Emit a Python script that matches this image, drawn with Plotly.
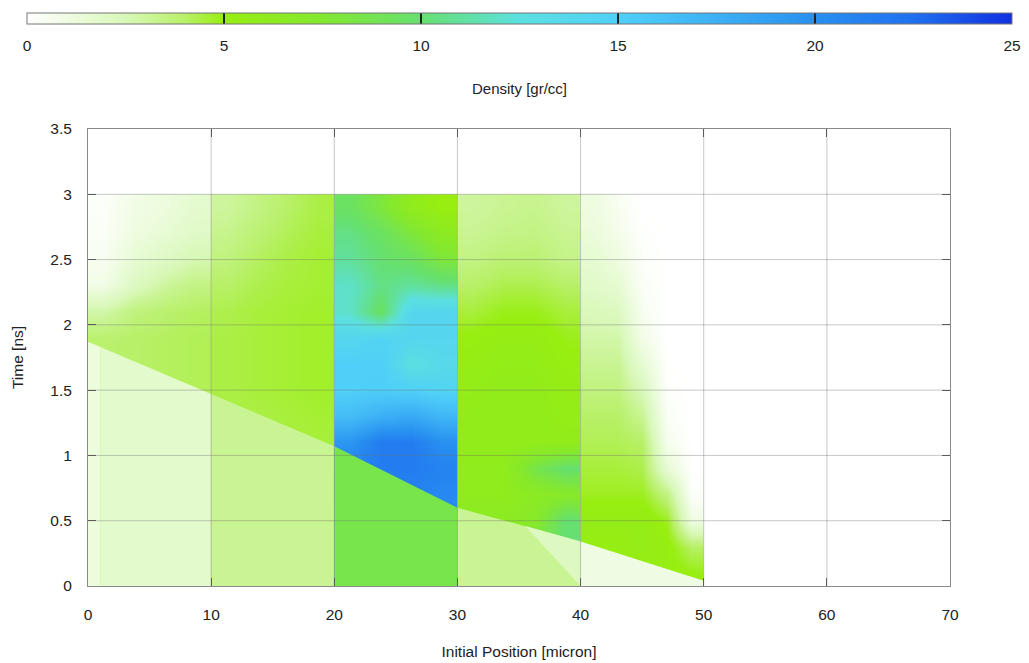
import plotly.graph_objects as go
from plotly.colors import sample_colorscale

# ---------------- data ----------------
# time grid (ns) shared by all material layers: row edges
t_edges = [0.0, 0.2, 0.4, 0.6, 0.8, 1.0, 1.2, 1.4, 1.6, 1.8, 2.0, 2.2, 2.4, 2.6, 2.8, 3.0]

# Post-shock density (gr/cc) per material layer, rows = time (0.1 .. 2.9 ns)
layer_a_x = [0.0, 2.5, 5.0, 7.5, 10.0]
layer_a_z = [
    [3.9, 4.0, 4.1, 4.2],
    [3.9, 4.0, 4.1, 4.2],
    [3.9, 4.0, 4.1, 4.2],
    [3.9, 4.0, 4.1, 4.2],
    [3.9, 4.0, 4.1, 4.2],
    [3.9, 4.0, 4.1, 4.2],
    [3.9, 4.0, 4.1, 4.2],
    [3.9, 4.0, 4.1, 4.2],
    [3.9, 4.0, 4.1, 4.2],
    [3.9, 4.0, 4.1, 4.2],
    [2.8, 3.6, 3.9, 4.1],
    [0.9, 2.2, 3.0, 3.5],
    [0.5, 1.5, 2.1, 2.6],
    [0.3, 1.1, 1.5, 2.0],
    [0.2, 0.9, 1.2, 1.7],
]

layer_b_x = [10.0, 12.5, 15.0, 17.5, 20.0]
layer_b_z = [
    [4.4, 4.4, 4.5, 4.5],
    [4.4, 4.4, 4.5, 4.5],
    [4.4, 4.4, 4.5, 4.5],
    [4.4, 4.4, 4.5, 4.5],
    [4.4, 4.4, 4.5, 4.5],
    [4.4, 4.4, 4.5, 4.5],
    [4.4, 4.4, 4.5, 4.6],
    [4.4, 4.5, 4.6, 4.7],
    [4.4, 4.5, 4.6, 4.7],
    [4.4, 4.5, 4.6, 4.7],
    [4.3, 4.5, 4.6, 4.7],
    [4.0, 4.3, 4.5, 4.6],
    [3.6, 4.1, 4.4, 4.6],
    [3.3, 3.8, 4.2, 4.5],
    [3.0, 3.5, 4.0, 4.4],
]

layer_c_x = [20.0, 22.5, 25.0, 27.5, 30.0]
layer_c_z = [
    [21.0, 21.0, 21.0, 20.5],
    [21.0, 21.0, 21.0, 20.5],
    [21.0, 21.0, 21.0, 20.5],
    [21.0, 21.0, 21.0, 20.5],
    [21.0, 21.5, 21.5, 21.0],
    [19.5, 21.5, 21.5, 20.0],
    [16.5, 17.5, 18.0, 17.0],
    [15.0, 15.2, 15.0, 14.5],
    [15.0, 15.0, 12.5, 13.5],
    [14.0, 14.5, 14.0, 14.0],
    [12.0, 9.5, 14.0, 14.0],
    [12.0, 10.5, 11.0, 10.5],
    [11.0, 10.0, 9.5, 8.0],
    [10.5, 9.5, 8.0, 6.5],
    [9.5, 8.0, 6.0, 5.0],
]

layer_d_x = [30.0, 32.5, 35.0, 37.5, 40.0]
layer_d_z = [
    [6.0, 6.0, 8.5, 10.0],
    [6.0, 6.0, 8.5, 10.0],
    [6.5, 6.5, 7.0, 10.0],
    [6.0, 6.0, 6.5, 7.0],
    [6.0, 6.0, 8.5, 10.0],
    [5.8, 5.8, 5.8, 5.8],
    [5.7, 5.8, 5.8, 5.5],
    [5.6, 5.8, 5.8, 5.4],
    [5.4, 5.6, 5.6, 5.1],
    [5.1, 5.4, 5.4, 4.9],
    [4.5, 4.9, 4.9, 4.5],
    [4.0, 4.3, 4.3, 4.0],
    [3.5, 3.8, 3.8, 3.4],
    [3.2, 3.4, 3.5, 3.2],
    [3.0, 3.2, 3.3, 3.0],
]

layer_e_x = [40.0, 42.0, 44.0, 46.0, 48.0, 50.0]
layer_e_z = [
    [5.2, 5.2, 5.2, 5.2, 5.0],
    [5.2, 5.2, 5.5, 5.2, 4.0],
    [5.5, 5.5, 5.5, 4.8, 1.0],
    [4.8, 4.8, 4.8, 3.5, 0.2],
    [4.5, 4.5, 4.3, 1.5, 0.0],
    [4.2, 4.2, 4.0, 0.6, 0.0],
    [4.0, 4.0, 3.2, 0.3, 0.0],
    [3.6, 3.6, 2.4, 0.1, 0.0],
    [3.2, 3.2, 1.6, 0.0, 0.0],
    [2.8, 2.8, 0.8, 0.0, 0.0],
    [2.4, 2.2, 0.5, 0.0, 0.0],
    [1.9, 1.6, 0.3, 0.0, 0.0],
    [1.6, 1.1, 0.2, 0.0, 0.0],
    [1.3, 0.7, 0.1, 0.0, 0.0],
    [1.1, 0.5, 0.0, 0.0, 0.0],
]

# Shock arrival time (ns) at initial positions (micron)
shock_x = [0, 1, 10, 20, 30, 40, 50]
shock_t = [1.87, 1.83, 1.47, 1.07, 0.60, 0.34, 0.04]
# Unshocked (initial) density of each segment between consecutive shock_x points
pre_density = [1.2, 1.8, 3.2, 8.5, 3.2, 1.0]

# Small rarefaction wedge ahead of the shock in the 30-40 layer
wedge_x = [35.5, 40.0, 40.0]
wedge_t = [0.46, 0.34, 0.0]
wedge_density = 2.2

cbar_ticks = [0, 5, 10, 15, 20, 25]

# ---------------- style ----------------
cmin, cmax = 0, 25
colorscale = [
    [0.00, "#ffffff"],
    [0.10, "#d8f8b8"],
    [0.16, "#b8f068"],
    [0.20, "#98ee10"],
    [0.30, "#84e830"],
    [0.40, "#66e070"],
    [0.50, "#5ce0e0"],
    [0.60, "#50d0f8"],
    [0.70, "#3cb0f5"],
    [0.80, "#2890f0"],
    [0.90, "#2070f0"],
    [1.00, "#1030e0"],
]
FONT = "Liberation Sans, Arial, Helvetica, sans-serif"
TXT = "#222222"

# plot-area geometry in pixels
W, H = 1029, 663
L, R, T, B = 88, 79, 127, 77
PW, PH = W - L - R, H - T - B


def col(v):
    return sample_colorscale(colorscale, [(v - cmin) / (cmax - cmin)])[0]


fig = go.Figure()

for xs, zs in [(layer_a_x, layer_a_z), (layer_b_x, layer_b_z), (layer_c_x, layer_c_z),
               (layer_d_x, layer_d_z), (layer_e_x, layer_e_z)]:
    fig.add_trace(go.Heatmap(x=xs, y=t_edges, z=zs, zsmooth="best",
                             coloraxis="coloraxis", hoverinfo="skip"))

# unshocked regions below the shock line
for i, d in enumerate(pre_density):
    x0, x1 = shock_x[i], shock_x[i + 1]
    fig.add_trace(go.Scatter(
        x=[x0, x1, x1, x0, x0], y=[0, 0, shock_t[i + 1], shock_t[i], 0],
        mode="lines", fill="toself", fillcolor=col(d),
        line=dict(width=0), hoverinfo="skip", showlegend=False))

fig.add_trace(go.Scatter(
    x=wedge_x + wedge_x[:1], y=wedge_t + wedge_t[:1], mode="lines", fill="toself",
    fillcolor=col(wedge_density), line=dict(width=0), hoverinfo="skip", showlegend=False))

# label-only colour bar (transparent), placed over the real one to carry the tick labels
fig.add_trace(go.Heatmap(z=[[cmin, cmax]], x=[100, 101], y=[1],
                         coloraxis="coloraxis2", hoverinfo="skip"))

# grid lines drawn over the map
grid = "rgba(110,110,110,0.38)"
for gx in [10, 20, 30, 40, 50, 60]:
    fig.add_shape(type="line", xref="x", yref="paper", x0=gx, x1=gx, y0=0, y1=1,
                  line=dict(color=grid, width=1), layer="above")
for gy in [0.5, 1.0, 1.5, 2.0, 2.5, 3.0]:
    fig.add_shape(type="line", xref="paper", yref="y", x0=0, x1=1, y0=gy, y1=gy,
                  line=dict(color=grid, width=1), layer="above")

axis_common = dict(showgrid=False, zeroline=False, showline=True, mirror="ticks",
                   linecolor="#8a8a8a", linewidth=1, ticks="inside", ticklen=8,
                   tickcolor="#555555", layer="above traces", automargin=False,
                   tickfont=dict(family=FONT, size=15.5, color=TXT))

# colour bar geometry (pixels -> paper)
bar_left, bar_right, bar_top, bar_h = 27, 1012, 10, 11
cb_x = ((bar_left + bar_right) / 2 - L) / PW
cb_y = 1 + (T - bar_top) / PH
cb_common = dict(orientation="h", xref="paper", yref="paper",
                 x=cb_x, xanchor="center", y=cb_y, yanchor="top",
                 len=bar_right - bar_left, lenmode="pixels", thickness=bar_h,
                 xpad=0, ypad=0, tickvals=cbar_ticks)

fig.update_layout(
    width=W, height=H,
    margin=dict(l=L, r=R, t=T, b=B),
    paper_bgcolor="white", plot_bgcolor="white",
    showlegend=False,
    font=dict(family=FONT, size=15, color=TXT),
    xaxis=dict(range=[0, 70], dtick=10, tick0=0, ticklabelstandoff=14,
               title=dict(text="Initial Position [micron]", standoff=24,
                          font=dict(family=FONT, size=15.5, color=TXT)),
               **axis_common),
    yaxis=dict(range=[0, 3.5], dtick=0.5, tick0=0, ticklabelstandoff=12,
               title=dict(text="Time [ns]", standoff=22,
                          font=dict(family=FONT, size=15.5, color=TXT)),
               **axis_common),
    coloraxis=dict(
        cmin=cmin, cmax=cmax, colorscale=colorscale,
        colorbar=dict(outlinecolor="#777", outlinewidth=1,
                      ticks="inside", ticklen=bar_h, tickcolor="#222", tickwidth=1.5,
                      showticklabels=False, **cb_common),
    ),
    coloraxis2=dict(
        cmin=cmin, cmax=cmax,
        colorscale=[[0, "rgba(0,0,0,0)"], [1, "rgba(0,0,0,0)"]],
        colorbar=dict(outlinewidth=0, ticks="outside", ticklen=9,
                      tickcolor="rgba(0,0,0,0)",
                      tickfont=dict(family=FONT, size=15.5, color=TXT),
                      **cb_common),
    ),
    annotations=[dict(text="Density [gr/cc]", xref="paper", yref="paper",
                      x=cb_x, y=1 + (T - 86) / PH, xanchor="center", yanchor="middle",
                      showarrow=False, font=dict(family=FONT, size=15, color=TXT))],
)

fig.write_html("out.html",
               config={"displayModeBar": False},
               post_script="document.body.style.margin='0px';"
                           "document.body.style.overflow='hidden';")
